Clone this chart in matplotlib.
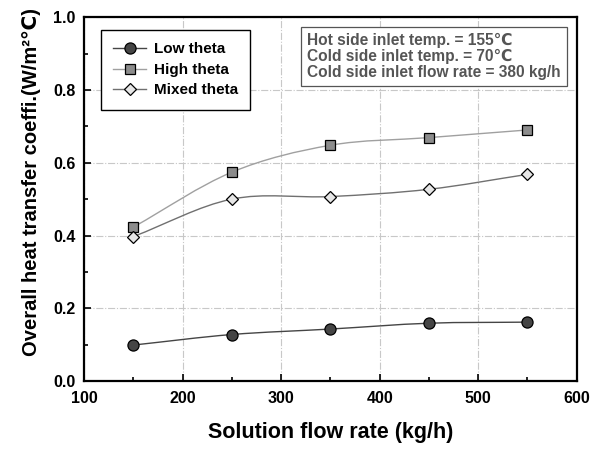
import numpy as np
import matplotlib
matplotlib.use("Agg")
import matplotlib.pyplot as plt
from matplotlib.path import Path
from matplotlib.patches import PathPatch
from matplotlib.lines import Line2D

plt.rcParams['font.family'] = ['Liberation Sans', 'DejaVu Sans']
plt.rcParams['font.weight'] = 'bold'

flow = [150, 250, 350, 450, 550]
low_theta = [0.099, 0.128, 0.143, 0.159, 0.162]
high_theta = [0.423, 0.574, 0.648, 0.669, 0.690]
mixed_theta = [0.397, 0.500, 0.507, 0.527, 0.568]

notes = ["Hot side inlet temp. = 155\u2103",
         "Cold side inlet temp. = 70\u2103",
         "Cold side inlet flow rate = 380 kg/h"]


# smooth curve through the points (catmull-rom as bezier segments)
def smooth_path(x, y):
    p = np.column_stack([x, y]).astype(float)
    n = len(p)
    t = np.zeros_like(p)
    t[0] = p[1] - p[0]
    t[-1] = p[-1] - p[-2]
    for i in range(1, n - 1):
        t[i] = (p[i + 1] - p[i - 1]) / 2
    verts = [p[0]]
    codes = [Path.MOVETO]
    for i in range(n - 1):
        verts += [p[i] + t[i] / 3, p[i + 1] - t[i + 1] / 3, p[i + 1]]
        codes += [Path.CURVE4] * 3
    return Path(verts, codes)


fig = plt.figure(figsize=(6.09, 4.51), dpi=100)
ax = fig.add_axes([0.138, 0.155, 0.809, 0.807])

series = [
    ("Low theta", low_theta, "o", "#454545", "#454545", 8),
    ("High theta", high_theta, "s", "#8c8c8c", "#a0a0a0", 7),
    ("Mixed theta", mixed_theta, "D", "#e6e6e6", "#707070", 6.5),
]

handles = []
for name, vals, mk, fc, lc, ms in series:
    ax.add_patch(PathPatch(smooth_path(flow, vals), fill=False,
                           edgecolor=lc, lw=1.0, zorder=3))
    ax.plot(flow, vals, linestyle="none", marker=mk, ms=ms,
            mfc=fc, mec="black", mew=0.9, zorder=4)
    handles.append(Line2D([], [], color=lc, lw=1.0, marker=mk,
                          ms=ms, mfc=fc, mec="black", mew=0.9))

ax.set_xlim(100, 600)
ax.set_ylim(0, 1.0)
ax.set_xticks(np.arange(100, 601, 100))
ax.set_xticks(np.arange(150, 600, 100), minor=True)
ax.set_yticks(np.arange(0, 1.01, 0.2))
ax.set_yticks(np.arange(0.1, 1.0, 0.2), minor=True)
ax.yaxis.set_major_formatter(matplotlib.ticker.FormatStrFormatter('%.1f'))
ax.tick_params(which='both', direction='in', top=False, right=False,
               labelsize=11.5, width=1.2)
ax.tick_params(which='major', length=5)
ax.tick_params(which='minor', length=3)
for lab in ax.get_xticklabels() + ax.get_yticklabels():
    lab.set_fontweight('bold')
ax.tick_params(axis='x', pad=7)
ax.tick_params(axis='y', pad=6)

ax.grid(True, which='major', color='#c8c8c8', linestyle='-.', lw=0.8)
for s in ax.spines.values():
    s.set_linewidth(1.6)

ax.set_xlabel("Solution flow rate (kg/h)", fontsize=15.5, fontweight='bold', labelpad=12)
ax.set_ylabel("Overall heat transfer coeffi.(W/m\u00b2\u2103)", fontsize=14.5,
              fontweight='bold')
ax.yaxis.set_label_coords(-0.088, 0.547)

leg = ax.legend(handles, [s[0] for s in series], loc='upper left',
                bbox_to_anchor=(0.018, 0.985), fontsize=11, frameon=True,
                fancybox=False, edgecolor='black', framealpha=1,
                handlelength=2.2, borderpad=0.8, labelspacing=0.42,
                handletextpad=0.5)
leg.get_frame().set_linewidth(1.0)

ax.text(0.452, 0.957, "\n".join(notes), transform=ax.transAxes, fontsize=11.2,
        fontweight='bold', color='#555555', va='top', ha='left', linespacing=1.08,
        bbox=dict(boxstyle='square,pad=0.4', fc='white', ec='#555555', lw=0.9))

fig.savefig("out.png", dpi=100)
